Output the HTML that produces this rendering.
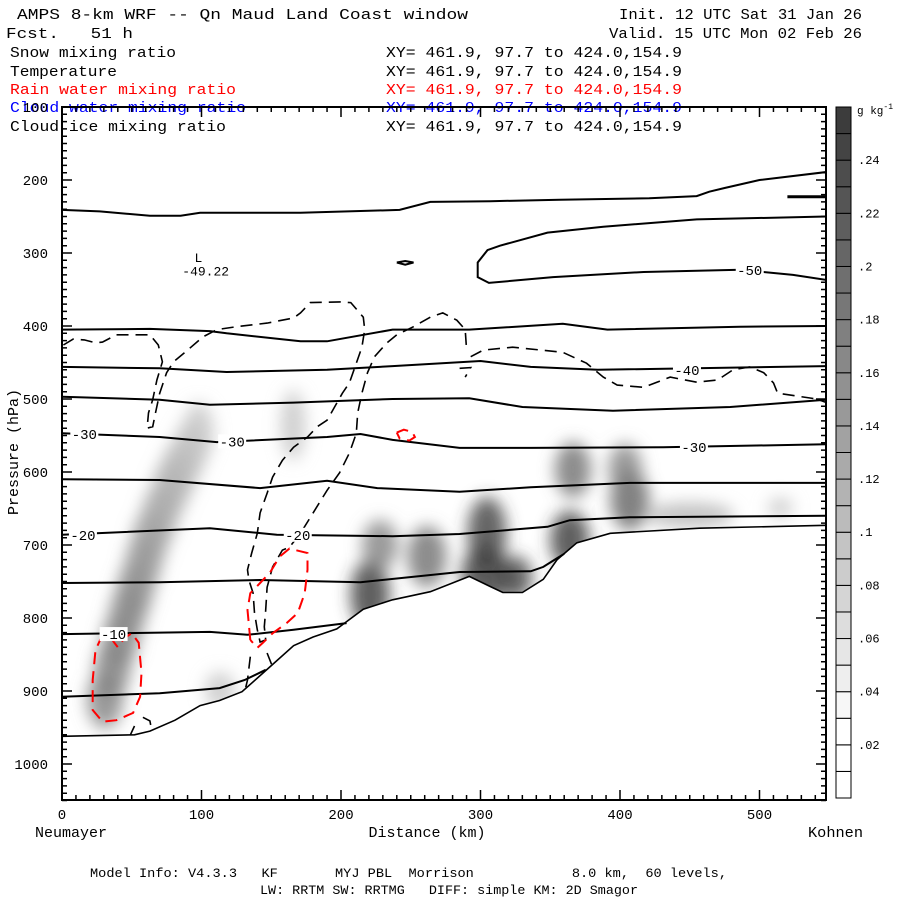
<!DOCTYPE html>
<html><head><meta charset="utf-8"><style>
html,body{margin:0;padding:0;background:#fff;}
svg{display:block;font-family:"Liberation Mono",monospace;}
</style></head><body>
<svg id="chart" width="900" height="900" viewBox="0 0 900 900" xmlns="http://www.w3.org/2000/svg">
<defs>
<filter id="blur" x="-50%" y="-50%" width="200%" height="200%"><feGaussianBlur stdDeviation="8"/></filter>
<clipPath id="plotclip"><rect x="62" y="107" width="764" height="693"/></clipPath>
</defs>
<g font-size="15">
<text x="17" y="19" textLength="451" lengthAdjust="spacingAndGlyphs">AMPS 8-km WRF -- Qn Maud Land Coast window</text>
<text x="619" y="19" textLength="243" lengthAdjust="spacingAndGlyphs">Init. 12 UTC Sat 31 Jan 26</text>
<text x="6" y="38" textLength="127" lengthAdjust="spacingAndGlyphs" xml:space="preserve">Fcst.   51 h</text>
<text x="609" y="38" textLength="253" lengthAdjust="spacingAndGlyphs">Valid. 15 UTC Mon 02 Feb 26</text>
<text x="10" y="57" textLength="166" lengthAdjust="spacingAndGlyphs">Snow mixing ratio</text>
<text x="386" y="57" textLength="296" lengthAdjust="spacingAndGlyphs">XY= 461.9, 97.7 to 424.0,154.9</text>
<text x="10" y="76" textLength="107" lengthAdjust="spacingAndGlyphs">Temperature</text>
<text x="386" y="76" textLength="296" lengthAdjust="spacingAndGlyphs">XY= 461.9, 97.7 to 424.0,154.9</text>
<text x="10" y="94" fill="#ff0000" textLength="226" lengthAdjust="spacingAndGlyphs">Rain water mixing ratio</text>
<text x="386" y="94" fill="#ff0000" textLength="296" lengthAdjust="spacingAndGlyphs">XY= 461.9, 97.7 to 424.0,154.9</text>
<text x="10" y="112" fill="#0000ff" textLength="236" lengthAdjust="spacingAndGlyphs">Cloud water mixing ratio</text>
<text x="386" y="112" fill="#0000ff" textLength="296" lengthAdjust="spacingAndGlyphs">XY= 461.9, 97.7 to 424.0,154.9</text>
<text x="10" y="131" textLength="216" lengthAdjust="spacingAndGlyphs">Cloud ice mixing ratio</text>
<text x="386" y="131" textLength="296" lengthAdjust="spacingAndGlyphs">XY= 461.9, 97.7 to 424.0,154.9</text>
</g>
<g id="shade" clip-path="url(#plotclip)" filter="url(#blur)"></g>
<g id="terrainfill" clip-path="url(#plotclip)"></g>
<g id="contours" clip-path="url(#plotclip)" fill="none"></g>
<g id="axes"></g>
<g id="cbar"></g>
<g font-size="13">
<text x="90" y="877" textLength="637" lengthAdjust="spacingAndGlyphs" xml:space="preserve">Model Info: V4.3.3   KF       MYJ PBL  Morrison            8.0 km,  60 levels,</text>
<text x="260" y="894" textLength="378" lengthAdjust="spacingAndGlyphs" xml:space="preserve">LW: RRTM SW: RRTMG   DIFF: simple KM: 2D Smagor</text>
</g>
</svg>
<script>
// ---- data (km, hPa) ----
const xTicks = [0,100,200,300,400,500];
const yTicks = [100,200,300,400,500,600,700,800,900,1000];
const cbarLabels = [".02",".04",".06",".08",".1",".12",".14",".16",".18",".2",".22",".24"];
const cbarValues = [0.02,0.04,0.06,0.08,0.10,0.12,0.14,0.16,0.18,0.20,0.22,0.24];

const terrain = [[0,962],[52,960],[63,955],[81,940],[99,920],[113,913],[129,901],[149,867],[166,838],[180,826],[197,815],[204,805],[216,788],[237,775],[264,764],[292,743],[306,756],[316,765],[330,765],[345,747],[355,720],[369,697],[393,684],[457,677],[548,673]];

const iso1 = [[0,241],[27,243],[63,249],[85,249],[99,245],[171,245],[242,241],[264,230],[307,229],[357,227],[421,225],[455,222],[464,216],[475,211],[500,200],[548,189]];
const iso1b = [[520,223],[548,223]];
const iso2 = [[548,337],[524,330],[486,323],[417,326],[352,333],[306,341],[298,333],[298,313],[305,296],[314,290],[348,272],[388,264],[455,254],[548,250]];
const iso2b = [[240,313],[246,311],[252,313],[246,316],[240,313]];
const iso3 = [[0,405],[63,404],[106,407],[118,410],[171,421],[190,421],[237,405],[292,405],[359,397],[391,405],[486,401],[548,400]];
const iso4 = [[0,456],[70,458],[118,463],[190,460],[237,455],[300,448],[336,456],[384,460],[548,455]];
const iso5 = [[0,497],[70,501],[106,508],[166,505],[237,500],[292,499],[330,511],[395,516],[479,511],[548,501]];
const iso6 = [[0,547],[70,552],[111,559],[190,552],[214,548],[237,556],[285,567],[336,567],[431,566],[548,562]];
const iso7 = [[0,610],[70,611],[142,622],[190,612],[226,622],[285,627],[336,621],[407,615],[548,615]];
const iso8 = [[0,686],[106,677],[154,686],[237,688],[285,685],[348,675],[364,666],[407,662],[548,660]];
const iso9 = [[0,752],[70,751],[142,748],[214,751],[285,737],[336,736],[345,730],[355,718],[360,712]];
const iso10 = [[0,822],[106,819],[133,823],[166,816],[204,807]];
const iso11 = [[0,908],[70,903],[113,896],[131,885],[146,871]];
const isotherms = [iso1,iso1b,iso2,iso2b,iso3,iso4,iso5,iso6,iso7,iso8,iso9,iso10,iso11];

const labelText = ["-50","-40","-30","-30","-30","-20","-20","-10"];
const labelKm = [493,448,16,122,453,15,169,37];
const labelHpa = [323,460,548,558,566,686,686,822];

const ice1 = [[1,426],[8,418],[16,419],[24,423],[29,422],[39,412],[63,412],[69,426],[72,449],[68,474],[65,501],[62,519],[61,540],[65,538],[67,519],[70,492],[75,464],[80,449],[90,433],[101,415],[111,405],[125,401],[147,396],[166,389],[171,382],[178,368],[199,367],[207,368],[216,388],[217,405],[215,429],[211,451],[206,478],[201,492],[190,529],[183,538],[176,552],[166,566],[158,584],[151,607],[147,629],[142,656],[140,684],[136,711],[133,734],[134,748],[137,766],[138,793],[140,816],[142,833],[146,830],[145,812],[146,789],[147,758],[151,730],[158,707],[163,703],[171,684],[180,656],[190,625],[199,601],[206,574],[211,547],[212,519],[215,492],[219,464],[224,442],[233,423],[240,412],[252,401],[264,388],[273,382],[283,392],[289,405],[290,433]];
const ice2 = [[293,442],[302,433],[323,429],[359,436],[376,451],[388,470],[398,481],[417,484],[436,470],[455,477],[470,474],[481,460],[493,456],[503,464],[510,478],[513,492],[527,496],[541,500],[548,505]];
const ice3 = [[135,853],[133,885],[131,901]];
const ice4 = [[147,848],[151,867]];
const ice5 = [[49,960],[52,948]];
const ice6 = [[58,936],[63,941],[64,951]];
const ice7 = [[285,458],[293,457],[289,470]];
const iceContours = [ice1,ice2,ice3,ice4,ice5,ice6,ice7];

const rain1 = [[29,823],[24,844],[22,885],[22,926],[29,942],[39,940],[51,930],[56,908],[57,875],[55,834],[50,821],[45,827],[40,840],[36,830],[29,823]];
const rain2 = [[135,830],[133,789],[135,766],[142,752],[149,738],[156,716],[163,705],[176,711],[176,734],[174,766],[169,793],[161,807],[151,821],[144,834],[140,841],[135,830]];
const rain3 = [[240,546],[245,542],[251,545],[253,552],[249,557],[242,554],[240,546]];
const rainContours = [rain1,rain2,rain3];

const snowKm  = [30.8,36,41.6,47,52.3,58,63.1,70,77.4,84,91.8,98,165.6,113.3,220.8,228,261.6,303.2,304.7,325,364,366.3,407,403.6,450,515];
const snowHpa = [912,870,830,795,762,727,693,660,625,598,570,545,536,899,768,700,716,741,684,745,693,597,638,595,659,649];
const snowVal = [0.12,0.12,0.12,0.11,0.11,0.10,0.09,0.08,0.07,0.06,0.05,0.04,0.04,0.04,0.24,0.12,0.14,0.27,0.20,0.20,0.24,0.14,0.16,0.12,0.06,0.04];
const snowSpreadKm  = [13,13,13,13,13,13,13,13,13,13,12,11,9,11,14,13,14,17,14,12,14,13,14,12,32,9];
const snowSpreadHpa = [40,40,40,40,40,40,40,40,40,40,40,40,48,25,48,34,42,40,50,30,40,38,42,34,17,14];

// ---- axis functions ----
const X0=62, X1=826, Y0=107, Y1=800;
function X(km){return X0 + km*1.395;}
function Y(p){return Y0 + (p-100)*0.73;}
function grayFor(v){const g=Math.round(255 - Math.max(0,Math.min(0.26,v)-0.02)/0.24*(255-55));return `rgb(${g},${g},${g})`;}
const NS="http://www.w3.org/2000/svg";
function mk(tag,attrs,parent){const e=document.createElementNS(NS,tag);for(const k in attrs)e.setAttribute(k,attrs[k]);parent.appendChild(e);return e;}
function ptsStr(arr){return arr.map(p=>X(p[0]).toFixed(1)+","+Y(p[1]).toFixed(1)).join(" ");}

// shading
const shade=document.getElementById("shade");
for(let i=0;i<snowKm.length;i++){
  const e=mk("ellipse",{cx:X(snowKm[i]),cy:Y(snowHpa[i]),rx:snowSpreadKm[i]*1.395,ry:snowSpreadHpa[i]*0.73,fill:grayFor(snowVal[i]+0.05),"fill-opacity":0.8},shade);
  
  
}
// terrain fill
const tf=document.getElementById("terrainfill");
const tpoly=mk("polygon",{points:ptsStr(terrain)+` ${X1},${Y1+5} ${X0},${Y1+5}`,fill:"#fff"},tf);



const cg=document.getElementById("contours");
isotherms.forEach((c,i)=>{
  const l=mk("polyline",{points:ptsStr(c),stroke:"#000","stroke-width":(c===iso1b?3:2)},cg);
  
  
});
iceContours.forEach(c=>{
  const l=mk("polyline",{points:ptsStr(c),stroke:"#000","stroke-width":1.6,"stroke-dasharray":"12,7"},cg);
  
  
});
rainContours.forEach(c=>{
  const l=mk("polyline",{points:ptsStr(c),stroke:"#ff0000","stroke-width":2,"stroke-dasharray":"12,7"},cg);
  
  
});
const tl=mk("polyline",{points:ptsStr(terrain),stroke:"#000","stroke-width":1.6},cg);


labelText.forEach((t,i)=>{
  const r=mk("rect",{x:X(labelKm[i])-14,y:Y(labelHpa[i])-7,width:28,height:14,fill:"#fff"},cg);
  
  
  const tx=mk("text",{x:X(labelKm[i]),y:Y(labelHpa[i])+5,"text-anchor":"middle","font-size":14,fill:"#000",stroke:"none"},cg);
  tx.textContent=t;
  
  
});
const lL=mk("text",{x:X(95),y:Y(312),"font-size":13,fill:"#000",stroke:"none"},cg);lL.textContent="L";


const lv=mk("text",{x:X(103),y:Y(331),"font-size":13,"text-anchor":"middle",fill:"#000",stroke:"none"},cg);lv.textContent="-49.22";



// axes
const ax=document.getElementById("axes");
const fr=mk("rect",{x:X0,y:Y0,width:X1-X0,height:Y1-Y0,fill:"none",stroke:"#000","stroke-width":2},ax);


let tk="";
for(let km=0;km<=540;km+=10){const x=X(km);const L=(km%100===0)?10:5;tk+=`M${x},${Y1}v${-L}M${x},${Y0}v${L}`;}
for(let p=100;p<=1050;p+=10){const y=Y(p);const L=(p%100===0)?10:5;tk+=`M${X0},${y}h${L}M${X1},${y}h${-L}`;}
const tp=mk("path",{d:tk,stroke:"#000","stroke-width":1.5,fill:"none"},ax);


xTicks.forEach(v=>{const t=mk("text",{x:X(v),y:819,"text-anchor":"middle","font-size":14},ax);t.textContent=v;
  
  });
yTicks.forEach(v=>{const t=mk("text",{x:48,y:Y(v)+5,"text-anchor":"end","font-size":14},ax);t.textContent=v;
  
  });
const xt=mk("text",{x:427,y:837,"text-anchor":"middle","font-size":15},ax);xt.textContent="Distance (km)";


const n1=mk("text",{x:35,y:837,"font-size":15,textLength:72,lengthAdjust:"spacingAndGlyphs"},ax);n1.textContent="Neumayer";


const n2=mk("text",{x:808,y:837,"font-size":15,textLength:55,lengthAdjust:"spacingAndGlyphs"},ax);n2.textContent="Kohnen";


const yt=mk("text",{x:0,y:0,"text-anchor":"middle","font-size":15,transform:"translate(18,452) rotate(-90)"},ax);yt.textContent="Pressure (hPa)";



// colorbar
const cb=document.getElementById("cbar");
const cbTop=107, cbBot=798, nCells=26, cellH=(cbBot-cbTop)/nCells;
for(let i=0;i<nCells;i++){
  const g=i<=2?255:Math.round(255-(i-2)*(255-60)/23);
  const r=mk("rect",{x:836,y:cbBot-(i+1)*cellH,width:15,height:cellH,fill:`rgb(${g},${g},${g})`,stroke:"#000","stroke-width":1},cb);
  
  
}
cbarLabels.forEach((t,i)=>{
  const y=cbBot-cbarValues[i]/0.01*cellH;
  const tx=mk("text",{x:858,y:y+4,"font-size":12},cb);tx.textContent=t;
  
  
});
const un=mk("text",{x:857,y:114,"font-size":11},cb);un.innerHTML='g kg<tspan dy="-5" font-size="8">-1</tspan>';


</script>
</body></html>
